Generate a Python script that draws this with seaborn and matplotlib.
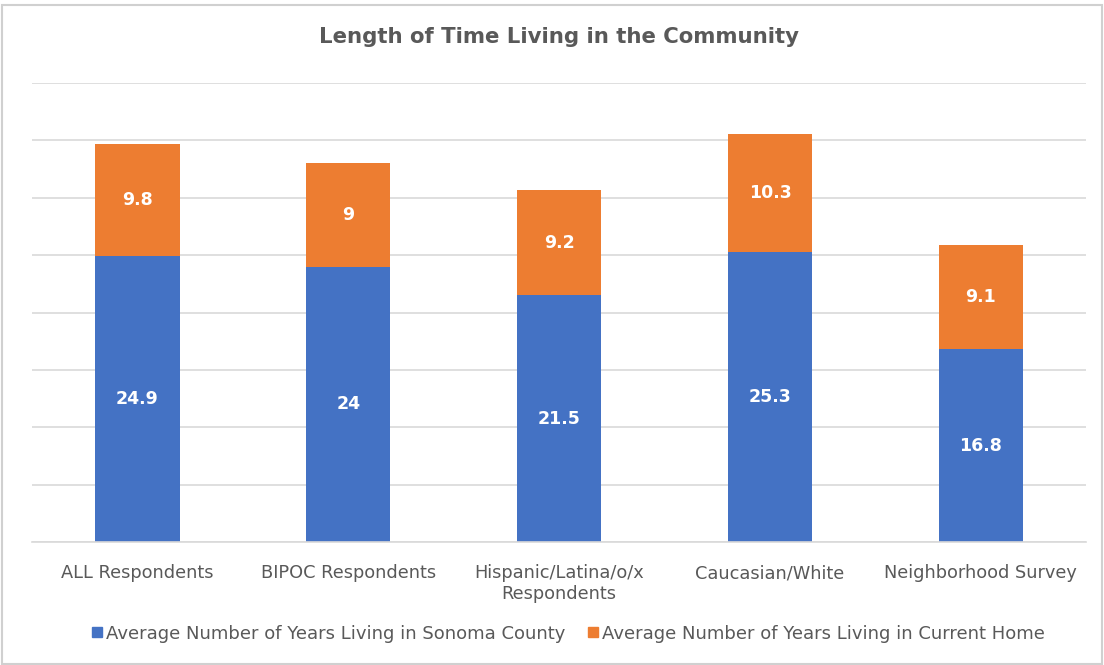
import matplotlib
matplotlib.use("Agg")
import matplotlib.pyplot as plt
import seaborn as sns
import pandas as pd
from matplotlib.patches import Rectangle
from matplotlib.lines import Line2D

categories = ["ALL Respondents", "BIPOC Respondents", "Hispanic/Latina/o/x\nRespondents",
              "Caucasian/White", "Neighborhood Survey"]
sonoma_years = [24.9, 24.0, 21.5, 25.3, 16.8]
home_years = [9.8, 9.0, 9.2, 10.3, 9.1]
sonoma_labels = ["24.9", "24", "21.5", "25.3", "16.8"]
home_labels = ["9.8", "9", "9.2", "10.3", "9.1"]
series_names = ["Average Number of Years Living in Sonoma County",
                "Average Number of Years Living in Current Home"]

BLUE = "#4472C4"
ORANGE = "#ED7D31"
GRAY = "#595959"

sns.set_theme(style="white")
plt.rcParams['font.family'] = ['DejaVu Sans']

df = pd.DataFrame({"cat": categories, "sonoma": sonoma_years, "home": home_years})
df["total"] = df["sonoma"] + df["home"]

fig = plt.figure(figsize=(11.04, 6.65), dpi=100)
ax = fig.add_axes([0.029, 0.185, 0.955, 0.69])

sns.barplot(data=df, x="cat", y="total", color=ORANGE, width=0.4, ax=ax,
            saturation=1, linewidth=0)
sns.barplot(data=df, x="cat", y="sonoma", color=BLUE, width=0.4, ax=ax,
            saturation=1, linewidth=0)

for i in range(len(categories)):
    ax.text(i, sonoma_years[i] / 2, sonoma_labels[i], ha="center", va="center",
            color="white", fontsize=12.5, fontweight="bold")
    ax.text(i, sonoma_years[i] + home_years[i] / 2, home_labels[i], ha="center",
            va="center", color="white", fontsize=12.5, fontweight="bold")

ax.set_ylim(0, 40)
ax.set_xlim(-0.5, 4.5)
ax.set_yticks(range(0, 41, 5))
ax.yaxis.grid(True, color="#D9D9D9", linewidth=1.2)
ax.set_axisbelow(True)
ax.tick_params(axis="y", left=False, labelleft=False)
ax.tick_params(axis="x", bottom=False, labelsize=12.8, labelcolor=GRAY, pad=10)
ax.set_xlabel("")
ax.set_ylabel("")
for s in ["top", "left", "right"]:
    ax.spines[s].set_visible(False)
ax.spines["bottom"].set_color("#D9D9D9")
ax.spines["bottom"].set_linewidth(1.2)

fig.text(0.506, 0.944, "Length of Time Living in the Community", ha="center",
         va="center", fontsize=15.3, fontweight="bold", color=GRAY)

handles = [Line2D([0], [0], marker="s", color="none", markerfacecolor=BLUE,
                  markeredgecolor=BLUE, markersize=7),
           Line2D([0], [0], marker="s", color="none", markerfacecolor=ORANGE,
                  markeredgecolor=ORANGE, markersize=7)]
fig.legend(handles, series_names, loc="center", bbox_to_anchor=(0.513, 0.047),
           ncol=2, frameon=False, fontsize=13, labelcolor=GRAY,
           handletextpad=0.0, columnspacing=1.0, handlelength=1.0)

fig.add_artist(Rectangle((0.002, 0.002), 0.996, 0.99, transform=fig.transFigure,
                         fill=False, edgecolor="#D0D0D0", linewidth=1.5))

fig.savefig("out.png", dpi=100, facecolor="white")
